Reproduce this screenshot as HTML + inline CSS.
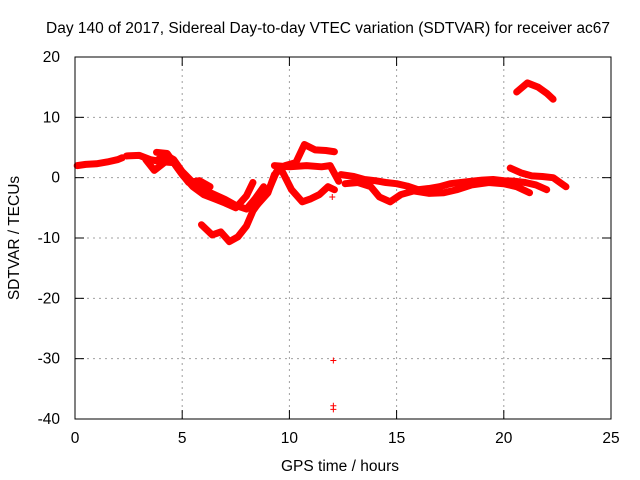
<!DOCTYPE html>
<html><head><meta charset="utf-8"><style>
body{margin:0;background:#fff}
svg{display:block;font-family:"Liberation Sans",sans-serif}
</style></head><body>
<svg id="c" width="640" height="480">
<text x="328" y="33" font-size="15.5" text-anchor="middle">Day 140 of 2017, Sidereal Day-to-day VTEC variation (SDTVAR) for receiver ac67</text>
<text x="340" y="471" font-size="15.5" text-anchor="middle">GPS time / hours</text>
<text transform="translate(19,238) rotate(-90)" font-size="15.5" text-anchor="middle">SDTVAR / TECUs</text>
<g id="grid"></g><g id="marks"></g>
<rect x="75" y="57" width="536" height="362" fill="none" stroke="#000" stroke-width="1"/>
</svg>
<script>
const xTicks=[0,5,10,15,20,25];
const yTicks=[20,10,0,-10,-20,-30,-40];
const trackA=[[0.1,2.0],[0.5,2.2],[1,2.3],[1.5,2.6],[2,3.0],[2.2,3.3]];
const trackB=[[2.4,3.6],[3,3.7],[3.5,3.0],[3.8,2.8],[4.2,3.8],[4.6,3.0],[5,1.0],[5.5,-0.8],[6,-2.0],[6.5,-2.8],[7,-3.6],[7.5,-4.6],[8,-5.2],[8.4,-3.5],[8.8,-1.5]];
const trackC=[[3.3,3.0],[3.7,1.2],[4.2,2.6],[4.6,2.5],[5,0.5],[5.5,-1.5],[6,-2.8],[6.5,-3.5],[7,-4.2],[7.5,-5.0],[8,-3.0],[8.3,-0.8]];
const trackD=[[3.8,4.2],[4.3,4.0],[4.8,1.5],[5.3,-0.8],[5.8,-0.5],[6.3,-1.5]];
const trackE=[[5.9,-7.8],[6.4,-9.5],[6.8,-9.0],[7.2,-10.6],[7.6,-9.8],[8.0,-8.0],[8.3,-5.5],[8.7,-3.5],[9.1,-1.5],[9.4,1.0],[9.8,2.0],[10.3,2.5],[10.7,5.5],[11.2,4.6],[11.7,4.5],[12.1,4.3]];
const trackF=[[8.5,-4.5],[9.0,-2.5],[9.3,0.5],[9.6,1.5],[10.1,-2.0],[10.6,-4.0],[11.0,-3.5],[11.4,-2.8],[11.8,-1.5],[12.1,-2.0]];
const trackG=[[9.3,2.0],[10,1.8],[10.8,2.0],[11.5,1.8],[11.9,2.0],[12.3,-0.6]];
const trackH=[[12.4,0.5],[13,0.2],[13.5,-0.3],[14,-0.5],[14.5,-0.8],[15,-1.0],[15.5,-1.4],[16,-2.0],[16.5,-1.8],[17,-1.5],[17.5,-1.0],[18,-0.8],[18.5,-0.6],[19,-0.4],[19.5,-0.3],[20,-0.5],[20.5,-0.6],[21,-0.8],[21.5,-1.2],[22,-2.0]];
const trackI=[[12.6,-1.0],[13.2,-0.8],[13.8,-1.5],[14.2,-3.2],[14.7,-4.0],[15.2,-2.8],[15.8,-2.2],[16.5,-2.6],[17.2,-2.5],[17.8,-2.0],[18.5,-1.2],[19.3,-0.8],[20,-1.0],[20.6,-1.5],[21.2,-2.5]];
const trackJ=[[20.3,1.6],[20.8,0.8],[21.3,0.3],[21.8,0.2],[22.3,0.0],[22.7,-1.0],[22.9,-1.5]];
const trackK=[[20.6,14.2],[21.1,15.7],[21.6,15.0],[22.0,14.0],[22.3,13.0]];
const outliers=[[12.05,-30.3],[12.05,-37.8],[12.05,-38.4],[12.0,-3.2]];
const tracks=[trackA,trackB,trackC,trackD,trackE,trackF,trackG,trackH,trackI,trackJ,trackK];
const X=h=>75+h*536/25, Y=v=>57+(20-v)*362/60;
const NS="http://www.w3.org/2000/svg";
const grid=document.getElementById('grid'), marks=document.getElementById('marks');
function mk(tag,attrs,parent){const e=document.createElementNS(NS,tag);for(const k in attrs)e.setAttribute(k,attrs[k]);parent.appendChild(e);return e;}
xTicks.forEach(t=>{
 if(t>0&&t<25){const g=mk('line',{x1:X(t),x2:X(t),y1:57,y2:419,stroke:'#a0a0a0','stroke-dasharray':'2,4'},grid);
 
 }
 mk('line',{x1:X(t),x2:X(t),y1:419,y2:410,stroke:'#000'},grid);
 mk('line',{x1:X(t),x2:X(t),y1:57,y2:66,stroke:'#000'},grid);
 const l=mk('text',{x:X(t),y:443,'font-size':15.5,'text-anchor':'middle'},grid);l.textContent=t;
 
 
});
yTicks.forEach(t=>{
 if(t>-40&&t<20){const g=mk('line',{x1:75,x2:611,y1:Y(t),y2:Y(t),stroke:'#a0a0a0','stroke-dasharray':'2,4'},grid);
 
 }
 mk('line',{x1:75,x2:84,y1:Y(t),y2:Y(t),stroke:'#000'},grid);
 mk('line',{x1:602,x2:611,y1:Y(t),y2:Y(t),stroke:'#000'},grid);
 const l=mk('text',{x:60,y:Y(t)+5,'font-size':15.5,'text-anchor':'end'},grid);l.textContent=t;
 
 
});
tracks.forEach(tr=>{
 const p=mk('polyline',{points:tr.map(d=>X(d[0])+','+Y(d[1])).join(' '),fill:'none',stroke:'#f00','stroke-width':7,'stroke-linejoin':'round','stroke-linecap':'round'},marks);
 
 
});
outliers.forEach(d=>{
 const p=mk('path',{d:`M${X(d[0])-3},${Y(d[1])}h6M${X(d[0])},${Y(d[1])-3}v6`,stroke:'#f00','stroke-width':1},marks);
 
 
});
</script>
</body></html>
